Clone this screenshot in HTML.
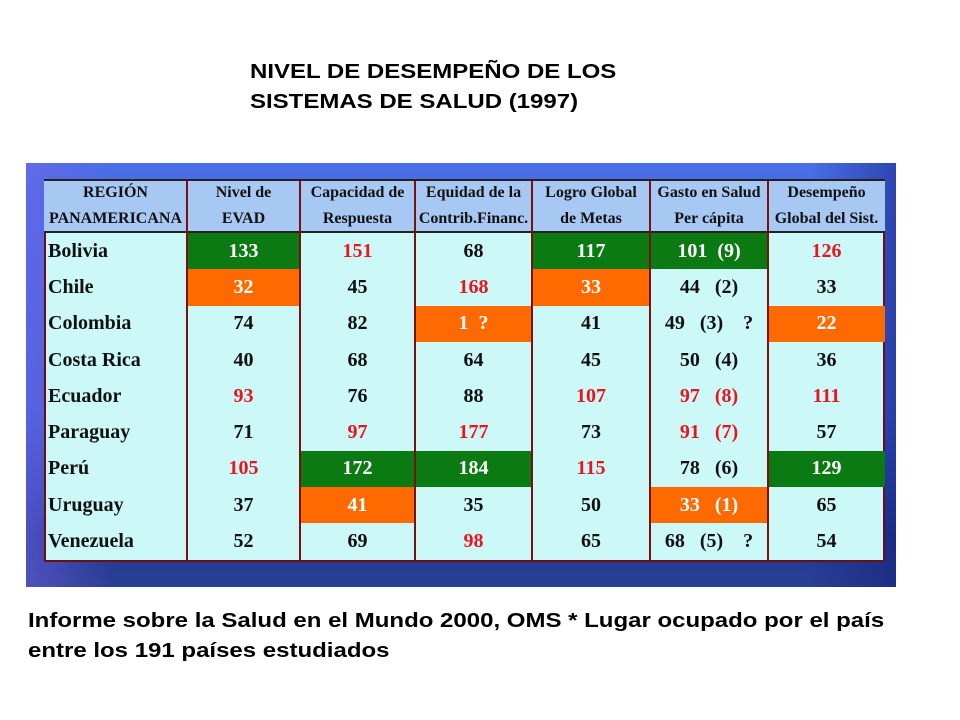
<!DOCTYPE html>
<html><head><meta charset="utf-8"><style>
body{margin:0;width:960px;height:720px;background:#fff;position:relative;overflow:hidden;font-family:"Liberation Sans",sans-serif}
.t{position:absolute;font-weight:bold;font-size:20px;line-height:30px;color:#000;transform:scaleX(1.2);transform-origin:0 0;white-space:nowrap}
#bg{position:absolute;left:26px;top:163px;width:870px;height:424px;background:linear-gradient(180deg,#4a6ee8 0%,#3a5fd8 60%,#1e3a9a 88%,#2a3f90 100%)}
#bg:before{content:"";position:absolute;inset:0;background:linear-gradient(90deg,rgba(120,100,230,.5),rgba(0,0,0,0) 10%,rgba(0,0,0,0) 90%,rgba(20,30,120,.5))}
#tbl{position:absolute;left:44px;top:179px;width:841px;height:383px;background:#ccf8f8;border:2px solid #6a1010;box-sizing:border-box}
.c{position:absolute;display:flex;align-items:center;justify-content:center;font-family:"Liberation Serif",serif;font-weight:bold;font-size:20px;color:#111;box-sizing:border-box;white-space:pre}
.h{background:#a8c8f4;font-size:16px;line-height:26px;text-align:center;flex-direction:column;border-bottom:2px solid #222;border-top:2px solid #222}
.vl{position:absolute;top:0;bottom:0;width:2px;background:#7a1010}
</style></head><body>
<div class="t" style="left:250px;top:57px">NIVEL DE DESEMPEÑO DE LOS<br>SISTEMAS DE SALUD (1997)</div>
<div id="bg"></div>
<div id="tbl"></div>
<div class="t" style="left:28px;top:606px">Informe sobre la Salud en el Mundo 2000, OMS * Lugar ocupado por el país<br>entre los 191 países estudiados</div>
<script>
const headers=[["REGIÓN","PANAMERICANA"],["Nivel de","EVAD"],["Capacidad de","Respuesta"],["Equidad de la","Contrib.Financ."],["Logro Global","de Metas"],["Gasto en Salud","Per cápita"],["Desempeño","Global del Sist."]];
const countries=["Bolivia","Chile","Colombia","Costa Rica","Ecuador","Paraguay","Perú","Uruguay","Venezuela"];
const evad=["133","32","74","40","93","71","105","37","52"];
const capacidad=["151","45","82","68","76","97","172","41","69"];
const equidad=["68","168","1  ?","64","88","177","184","35","98"];
const logro=["117","33","41","45","107","73","115","50","65"];
const gasto=["101  (9)","44   (2)","49   (3)    ?","50   (4)","97   (8)","91   (7)","78   (6)","33   (1)","68   (5)    ?"];
const desempeno=["126","33","22","36","111","57","129","65","54"];
const styles=[
["G","R","","G","G","R"],["O","","R","O","",""],["","","O","","","O"],["","","","","",""],
["R","","","R","R","R"],["","R","R","","R",""],["R","G","G","R","","G"],["","O","","","O",""],["","","R","","",""]];
const cols=[0,143,256,371,488,606,724,841];
const tbl=document.getElementById('tbl');
const hh=54,rh=36.3;
headers.forEach((h,i)=>{const d=document.createElement('div');d.className='c h';


d.style.cssText=`left:${cols[i]-2}px;top:-2px;width:${cols[i+1]-cols[i]}px;height:${hh}px`;
d.innerHTML=h.map(s=>'<div>'+s+'</div>').join('');tbl.appendChild(d);});
const series=[evad,capacidad,equidad,logro,gasto,desempeno];
countries.forEach((c,r)=>{const top=hh-2+r*rh;
const d=document.createElement('div');d.className='c';


d.style.cssText=`left:2px;top:${top}px;width:141px;height:${rh}px;justify-content:flex-start`;d.textContent=c;tbl.appendChild(d);
series.forEach((s,k)=>{const e=document.createElement('div');e.className='c';


const st=styles[r][k];let bg='transparent',col='#111';
if(st=='G'){bg='#0b7a12';col='#fff'}else if(st=='O'){bg='#ff6a00';col='#fff'}else if(st=='R'){col='#e8141e'}
e.style.cssText=`left:${cols[k+1]-2}px;top:${top}px;width:${cols[k+2]-cols[k+1]}px;height:${rh}px;background:${bg};color:${col}`;
e.textContent=s[r];tbl.appendChild(e);});});
cols.slice(1,7).forEach((x,i)=>{const v=document.createElement('div');v.className='vl';


v.style.left=(x-3)+'px';tbl.appendChild(v);});
</script>
</body></html>
